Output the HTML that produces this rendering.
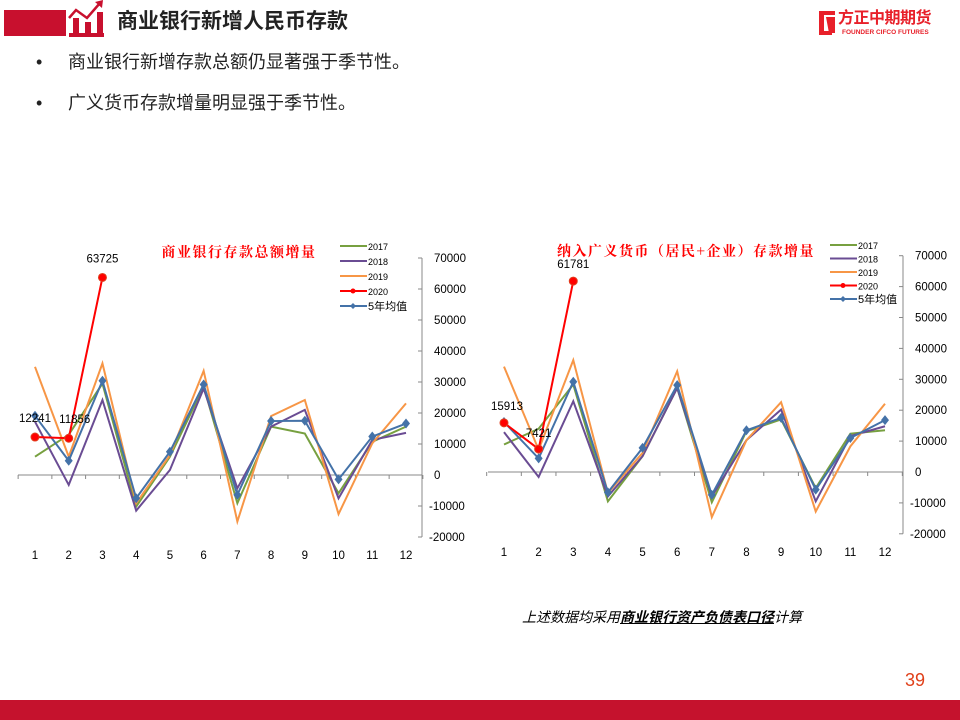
<!DOCTYPE html>
<html><head><meta charset="utf-8">
<style>
body{margin:0;width:960px;height:720px;position:relative;background:#fff;overflow:hidden;font-family:"Liberation Sans","Noto Sans CJK SC",sans-serif}
.abs{position:absolute}
</style></head>
<body>
<div class="abs" style="left:4px;top:10px;width:62px;height:26px;background:#c8102e"></div>
<svg class="abs" style="left:67px;top:0" width="40" height="38">
<rect x="2" y="33" width="35" height="4" fill="#c8102e"/>
<rect x="6" y="18" width="6" height="15" fill="#c8102e"/><rect x="18" y="22" width="6" height="11" fill="#c8102e"/><rect x="30" y="12" width="6" height="21" fill="#c8102e"/>
<polyline points="2,18 9,10 20,18 33,3" fill="none" stroke="#c8102e" stroke-width="2.5"/>
<polygon points="28,2 36,0 35,8" fill="#c8102e"/>
</svg>
<div class="abs" style="left:117px;top:9px;font-size:21px;font-weight:bold;color:#222;line-height:26px">商业银行新增人民币存款</div>
<div class="abs" style="left:815px;top:9px;width:135px;height:30px">
<svg width="24" height="28" style="position:absolute;left:0;top:0"><path d="M4 2 H20 V6 H9 V22 H17 V26 H4 Z" fill="#e8202a"/><path d="M11 8 H20 V24 H14 Z" fill="#e8202a"/></svg>
<div style="position:absolute;left:23px;top:0;font-size:16px;font-weight:bold;color:#e8202a;line-height:19px;letter-spacing:-0.5px">方正中期期货</div>
<div style="position:absolute;left:27px;top:20px;font-size:6.5px;font-weight:bold;color:#e8202a;line-height:8px">FOUNDER CIFCO FUTURES</div>
</div>
<div class="abs" style="left:36px;top:51px;font-size:18px;color:#222;line-height:22px">•<span style="position:absolute;left:32px;white-space:nowrap">商业银行新增存款总额仍显著强于季节性。</span></div>
<div class="abs" style="left:36px;top:92px;font-size:18px;color:#222;line-height:22px">•<span style="position:absolute;left:32px;white-space:nowrap">广义货币存款增量明显强于季节性。</span></div>

<svg class="abs" style="left:0;top:0" width="960" height="720" id="svg"></svg>

<div class="abs" style="left:522px;top:607px;font-size:14px;font-style:italic;color:#000;line-height:20px;white-space:nowrap">上述数据均采用<b style="text-decoration:underline">商业银行资产负债表口径</b>计算</div>
<div class="abs" style="left:905px;top:670px;font-size:18px;color:#e0401a">39</div>
<div class="abs" style="left:0;top:700px;width:960px;height:20px;background:#c5122d"></div>

<script>
const months=[1,2,3,4,5,6,7,8,9,10,11,12];
const yTicks=[70000,60000,50000,40000,30000,20000,10000,0,-10000,-20000];
const seriesNames=["2017","2018","2019","2020","5年均值"];
const c1_2017=[5900,13000,29500,-10200,5900,28500,-9100,15600,13400,-5900,10700,15600];
const c1_2018=[17200,-3200,24200,-11500,1600,27900,-4300,15600,21000,-7500,11300,13600];
const c1_2019=[34900,5900,36000,-9100,6400,33600,-15000,19000,24200,-12600,10200,23100];
const c1_2020=[12241,11856,63725];
const c1_avg=[19100,4600,30400,-7500,7500,29200,-6400,17400,17500,-1400,12400,16600];
const c2_2017=[8900,14000,28300,-9500,5100,27200,-9800,13200,17000,-5200,12400,13500];
const c2_2018=[12900,-1600,22900,-7900,5100,27200,-7900,10300,20200,-9500,11600,14800];
const c2_2019=[34100,7200,36200,-6800,6200,32600,-14600,10300,22600,-12800,8300,22100];
const c2_2020=[15913,7421,61781];
const c2_avg=[16200,4400,29200,-6600,7800,28100,-7400,13500,17500,-5700,11000,16800];

const svg=document.getElementById('svg');
const NS='http://www.w3.org/2000/svg';
function mk(tag,attrs,parent){const e=document.createElementNS(NS,tag);for(const k in attrs)e.setAttribute(k,attrs[k]);(parent||svg).appendChild(e);return e;}
const colors=["#77a040","#6a4c93","#f79646","#ff0000","#4472a8"];

function chart(cfg,d){
  const g=mk('g',{});
  
  
  const y=v=>cfg.y0-v/10000*cfg.py;
  const x=m=>cfg.x1+(m-1)*(cfg.x12-cfg.x1)/11;
  const ya=mk('line',{x1:cfg.ax,x2:cfg.ax,y1:y(70000),y2:y(-20000),stroke:'#888'},g);
  
  yTicks.forEach(t=>{
    mk('line',{x1:cfg.ax-4,x2:cfg.ax,y1:y(t),y2:y(t),stroke:'#888'},g);
    const tx=mk('text',{x:cfg.ax+(t<0?7:12),y:y(t)+4,'font-size':11.5,fill:'#000'},g);
    tx.textContent=t;
    
  });
  const xa=mk('line',{x1:cfg.xs,x2:cfg.ax,y1:y(0),y2:y(0),stroke:'#888'},g);
  
  const step=(cfg.x12-cfg.x1)/11;
  for(let i=0;i<=12;i++){const tx=x(1)-step/2+i*step;mk('line',{x1:tx,x2:tx,y1:y(0),y2:y(0)+4,stroke:'#888'},g);}
  months.forEach(m=>{
    const t=mk('text',{x:x(m),y:cfg.y0+84,'font-size':11.5,'text-anchor':'middle',fill:'#000'},g);
    t.textContent=m;
    
  });
  const arrs=[d[0],d[1],d[2],d[3],d[4]];
  const order=[0,1,2,4,3];
  order.forEach(si=>{
    const arr=arrs[si];
    const p=mk('polyline',{points:arr.map((v,i)=>x(i+1)+','+y(v)).join(' '),fill:'none',stroke:colors[si],'stroke-width':2},g);
    
    
    if(si===3){arr.forEach((v,i)=>{const c=mk('circle',{cx:x(i+1),cy:y(v),r:4,fill:'#ff0000',stroke:'#e04020'},g);
      
      const l=mk('text',{x:x(i+1)+(cfg.lo[i][0]),y:y(v)+cfg.lo[i][1],'font-size':11.5,'text-anchor':'middle',fill:'#000'},g);
      l.textContent=v;});}
    if(si===4){arr.forEach((v,i)=>{const c=mk('path',{d:`M${x(i+1)},${y(v)-5}L${x(i+1)+4},${y(v)}L${x(i+1)},${y(v)+5}L${x(i+1)-4},${y(v)}Z`,fill:colors[4]},g);
      });}
  });
  seriesNames.forEach((n,i)=>{
    const ly=cfg.ly+i*cfg.lstep;
    const e=mk('g',{},g);
    
    mk('line',{x1:cfg.lx,x2:cfg.lx+27,y1:ly,y2:ly,stroke:colors[i],'stroke-width':2},e);
    if(i===3)mk('circle',{cx:cfg.lx+13,cy:ly,r:2.5,fill:'#ff0000'},e);
    if(i===4)mk('path',{d:`M${cfg.lx+13},${ly-3}l3,3l-3,3l-3,-3z`,fill:colors[4]},e);
    const t=mk('text',{x:cfg.lx+28,y:ly+4,'font-size':i===4?11:9,fill:'#000'},e);
    t.textContent=n;
  });
  const tt=mk('text',{x:cfg.tx,y:cfg.ty,'font-size':14,'font-weight':'bold',fill:'#ff0000','font-family':'"Noto Serif CJK SC",serif','letter-spacing':1.5,'text-anchor':'middle'},g);
  tt.textContent=cfg.title;
  
}
chart({name:'chart-total-deposits',title:'商业银行存款总额增量',tx:239,ty:257,ax:422,y0:475,py:31,x1:35,x12:406,xs:18,lx:340,ly:246,lstep:15,
  lo:[[0,-15],[6,-15],[0,-15]]},[c1_2017,c1_2018,c1_2019,c1_2020,c1_avg]);
chart({name:'chart-broad-money-deposits',title:'纳入广义货币（居民+企业）存款增量',tx:686,ty:256,ax:903,y0:472,py:30.9,x1:504,x12:885,xs:488,lx:830,ly:245,lstep:13.5,
  lo:[[3,-13],[0,-12],[0,-13]]},[c2_2017,c2_2018,c2_2019,c2_2020,c2_avg]);
</script>
</body></html>
